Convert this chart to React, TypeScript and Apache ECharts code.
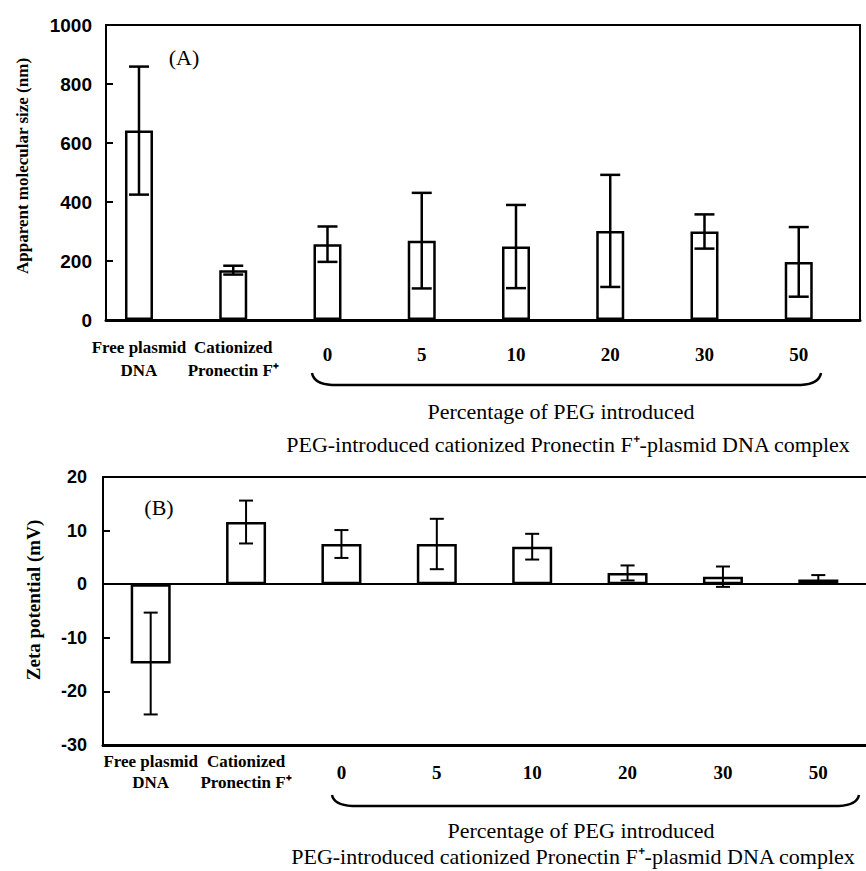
import React, { useEffect, useRef } from "react";
import * as echarts from "echarts";

const categories = ["Free plasmid\nDNA", "Cationized\nPronectin F⁺", "0", "5", "10", "20", "30", "50"];
const sizeMean = [642, 169, 257, 269, 249, 302, 300, 197];
const sizeSD = [217, 15, 60, 162, 141, 190, 58, 118];
const zetaMean = [-14.8, 11.6, 7.5, 7.5, 7.0, 2.1, 1.4, 0.9];
const zetaSD = [9.5, 4.0, 2.6, 4.7, 2.4, 1.4, 1.9, 0.8];
const titleA = "(A)";
const titleB = "(B)";
const yTitleA = "Apparent molecular size (nm)";
const yTitleB = "Zeta potential (mV)";
const groupTitle = "Percentage of PEG introduced";
const groupSubtitle = "PEG-introduced cationized Pronectin F⁺-plasmid DNA complex";

const serif = "Liberation Serif, Times New Roman, serif";
const sans = "Liberation Sans, Arial, sans-serif";

function labelFormatter(v: number) {
  const c = categories[Math.round(v)];
  if (c === undefined) return "";
  if (c.indexOf("\n") >= 0) return c.split("\n").map((s) => `{t|${s}}`).join("\n");
  return `{n|${c}}`;
}

function errorSeries(xi: number, yi: number, mean: number[], sd: number[], cap: number, lw: number) {
  return {
    type: "custom",
    xAxisIndex: xi,
    yAxisIndex: yi,
    z: 5,
    clip: false,
    data: mean.map((m, i) => [i, m, sd[i]]),
    encode: { x: 0, y: 1 },
    renderItem: (_p: any, api: any) => {
      const x = api.value(0);
      const m = api.value(1);
      const s = api.value(2);
      const a = api.coord([x, m + s]);
      const b = api.coord([x, m - s]);
      const st = { stroke: "#000", lineWidth: lw };
      return {
        type: "group",
        children: [
          { type: "line", shape: { x1: a[0], y1: a[1], x2: b[0], y2: b[1] }, style: st },
          { type: "line", shape: { x1: a[0] - cap / 2, y1: a[1], x2: a[0] + cap / 2, y2: a[1] }, style: st },
          { type: "line", shape: { x1: b[0] - cap / 2, y1: b[1], x2: b[0] + cap / 2, y2: b[1] }, style: st },
        ],
      };
    },
  };
}

function xAxisFor(grid: number, min: number, max: number, margin: number, lh: number, nlh: number) {
  return {
    gridIndex: grid,
    type: "value",
    min,
    max,
    position: "bottom",
    axisLine: { show: true, onZero: false, lineStyle: { color: "#000", width: 3 } },
    axisTick: { show: false },
    splitLine: { show: false },
    axisLabel: {
      show: true,
      customValues: categories.map((_, i) => i),
      formatter: labelFormatter,
      margin,
      color: "#000",
      rich: {
        t: { fontFamily: serif, fontWeight: "bold", fontSize: 17, lineHeight: lh, color: "#000" },
        n: { fontFamily: serif, fontWeight: "bold", fontSize: 19, lineHeight: nlh, color: "#000" },
      },
    },
  };
}

function yAxisFor(grid: number, min: number, max: number, interval: number, margin: number, fs: number) {
  return {
    gridIndex: grid,
    type: "value",
    min,
    max,
    interval,
    axisLine: { show: true, onZero: false, lineStyle: { color: "#000", width: 2 } },
    axisTick: { show: true, inside: true, length: 7, lineStyle: { color: "#000", width: 2 } },
    splitLine: { show: false },
    axisLabel: {
      margin,
      fontSize: fs,
      fontWeight: "bold",
      fontFamily: sans,
      color: "#000",
      formatter: (v: number) => String(v),
    },
  };
}

function text(x: number, y: number, t: string, fontSize: number, weight: string, rotation = 0) {
  return {
    type: "text",
    x,
    y,
    rotation,
    style: {
      text: t,
      fontSize,
      fontFamily: serif,
      fontWeight: weight,
      fill: "#000",
      align: "center",
      verticalAlign: "middle",
    },
  };
}

function brace(x1: number, x2: number, yTop: number, yLine: number) {
  const st = { stroke: "#000", lineWidth: 2.5, fill: null };
  return [
    { type: "bezierCurve", shape: { x1, y1: yTop, x2: x1 + 20, y2: yLine, cpx1: x1 + 2, cpy1: yLine - 1 }, style: st },
    { type: "line", shape: { x1: x1 + 20, y1: yLine, x2: x2 - 20, y2: yLine }, style: st },
    { type: "bezierCurve", shape: { x1: x2 - 20, y1: yLine, x2, y2: yTop, cpx1: x2 - 2, cpy1: yLine - 1 }, style: st },
  ];
}

export default function App() {
  const ref = useRef<HTMLDivElement>(null);
  useEffect(() => {
    document.body.style.margin = "0";
    const chart = echarts.init(ref.current!, undefined, { renderer: "svg" });
    const option: any = {
      animation: false,
      backgroundColor: "#fff",
      grid: [
        { left: 106, top: 25, width: 754, height: 295, show: true, borderColor: "#000", borderWidth: 2, backgroundColor: "transparent" },
        { left: 103, top: 477, width: 768, height: 268 },
      ],
      xAxis: [
        xAxisFor(0, -0.35, 7.65, 16, 23, 36),
        xAxisFor(1, -0.5, 7.5, 6, 21, 43),
        {
          gridIndex: 1,
          type: "value",
          min: -0.5,
          max: 7.5,
          position: "top",
          axisLine: { show: true, onZero: false, lineStyle: { color: "#000", width: 2 } },
          axisTick: { show: false },
          axisLabel: { show: false },
          splitLine: { show: false },
        },
      ],
      yAxis: [yAxisFor(0, 0, 1000, 200, 14, 19), yAxisFor(1, -30, 20, 10, 16, 18)],
      series: [
        {
          type: "bar",
          xAxisIndex: 0,
          yAxisIndex: 0,
          barWidth: 28,
          data: sizeMean.map((v, i) => [i, v]),
          itemStyle: { color: "#fff", borderColor: "#000", borderWidth: 2.5 },
        },
        errorSeries(0, 0, sizeMean, sizeSD, 20, 2.5),
        {
          type: "bar",
          xAxisIndex: 1,
          yAxisIndex: 1,
          barWidth: 40,
          data: zetaMean.map((v, i) => [i, v]),
          itemStyle: { color: "#fff", borderColor: "#000", borderWidth: 2.5 },
          markLine: {
            silent: true,
            symbol: ["none", "none"],
            label: { show: false },
            lineStyle: { color: "#000", width: 2, type: "solid" },
            data: [{ yAxis: 0 }],
          },
        },
        errorSeries(1, 1, zetaMean, zetaSD, 14, 2),
      ],
      graphic: [
        text(184, 57, titleA, 22, "normal"),
        text(159, 507, titleB, 22, "normal"),
        text(22, 166, yTitleA, 17, "bold", Math.PI / 2),
        text(33, 600, yTitleB, 19, "bold", Math.PI / 2),
        text(561, 411, groupTitle, 22, "normal"),
        text(568, 444, groupSubtitle, 22, "normal"),
        text(581, 830, groupTitle, 22, "normal"),
        text(573, 856, groupSubtitle, 22, "normal"),
        ...brace(312, 821, 373, 385),
        ...brace(332, 859, 795, 806),
      ],
    };
    chart.setOption(option);
    return () => chart.dispose();
  }, []);
  return <div ref={ref} style={{ width: 866, height: 871 }} />;
}
